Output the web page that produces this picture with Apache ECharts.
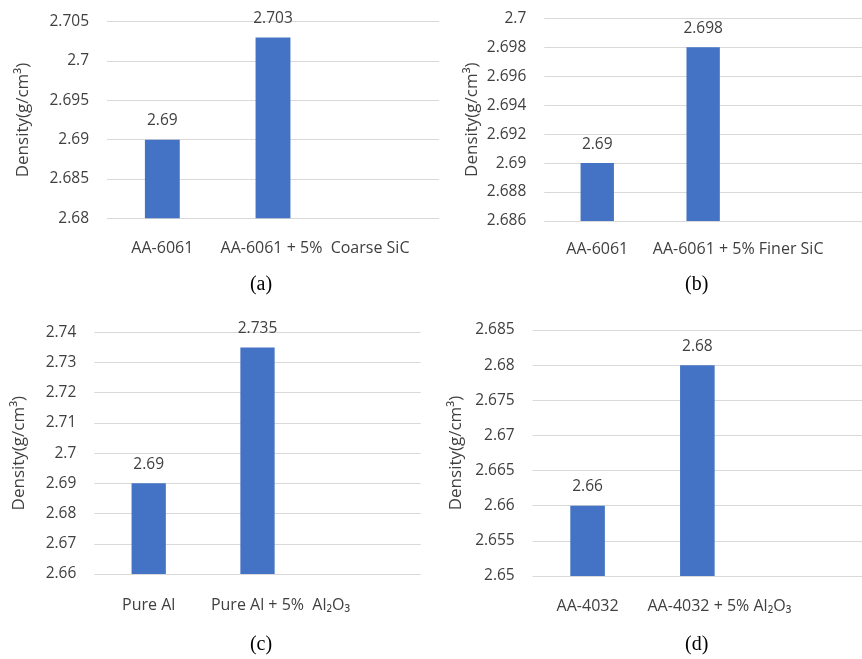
<!DOCTYPE html>
<html>
<head>
<meta charset="utf-8">
<script src="https://cdn.jsdelivr.net/npm/echarts@6/dist/echarts.min.js"></script>
<style>html,body{margin:0;padding:0;background:#fff}#c{width:862px;height:659px}</style>
</head>
<body>
<div id="c"></div>
<script>
// Panel (a)
const catsA = ['AA-6061', 'AA-6061 + 5%  Coarse SiC', ''];
const valsA = [2.69, 2.703, null];
const yA = {min: 2.68, max: 2.705, interval: 0.005};
// Panel (b)
const catsB = ['AA-6061', 'AA-6061 + 5% Finer SiC', ''];
const valsB = [2.69, 2.698, null];
const yB = {min: 2.686, max: 2.7, interval: 0.002};
// Panel (c)
const catsC = ['Pure Al', 'Pure Al + 5%  Al₂O₃', ''];
const valsC = [2.69, 2.735, null];
const yC = {min: 2.66, max: 2.74, interval: 0.01};
// Panel (d)
const catsD = ['AA-4032', 'AA-4032 + 5% Al₂O₃', ''];
const valsD = [2.66, 2.68, null];
const yD = {min: 2.65, max: 2.685, interval: 0.005};

const captions = ['(a)', '(b)', '(c)', '(d)'];
const yTitle = 'Density(g/cm³)';

const FONT = 'Open Sans';
const TXT = '#404040';
const BLUE = '#4472C4';

const grids = [
  {left: 107, top: 21.7, right: 423, bottom: 440.7},
  {left: 544.3, top: 18.3, right: 0, bottom: 438},
  {left: 94.3, top: 332.3, right: 441.3, bottom: 85},
  {left: 532.7, top: 330, right: -5.5, bottom: 83}
];
const labelShift = [84, 70, 46, 44];
const xMargins = [22, 20.5, 23, 22];
const nameGaps = [75, 64, 67, 68];
const capPos = [[261, 285], [696.7, 285], [261, 645], [696.7, 645]];

const allCats = [catsA, catsB, catsC, catsD];
const allVals = [valsA, valsB, valsC, valsD];
const allY = [yA, yB, yC, yD];

const xAxis = allCats.map((cats, i) => ({
  type: 'category', gridIndex: i,
  data: cats.map((c, j) => j === 1 ? {value: c, textStyle: {padding: [0, 0, 0, labelShift[i]]}} : c),
  axisLine: {show: false}, axisTick: {show: false},
  axisLabel: {color: TXT, fontFamily: FONT, fontSize: 16, margin: xMargins[i], interval: 0}
}));
const yAxis = allY.map((y, i) => ({
  type: 'value', gridIndex: i, min: y.min, max: y.max, interval: y.interval,
  name: yTitle, nameLocation: 'middle', nameRotate: 90, nameGap: nameGaps[i],
  nameTextStyle: {color: TXT, fontFamily: FONT, fontSize: 17},
  axisLine: {show: false}, axisTick: {show: false},
  axisLabel: {color: TXT, fontFamily: FONT, fontSize: 15.5, margin: 18},
  splitLine: {lineStyle: {color: '#D9D9D9', width: 1}}
}));
const series = allVals.map((v, i) => ({
  type: 'bar', xAxisIndex: i, yAxisIndex: i, data: v,
  barWidth: '31.5%',
  itemStyle: {color: BLUE},
  label: {show: true, position: 'top', distance: 11, color: TXT, fontFamily: FONT, fontSize: 15.5},
  silent: true, animation: false
}));
const graphic = captions.map((t, i) => ({
  type: 'text', x: capPos[i][0], y: capPos[i][1],
  style: {text: t, fill: '#000', font: '20px "Liberation Serif", serif', textAlign: 'center', textVerticalAlign: 'middle'}
}));

const chart = echarts.init(document.getElementById('c'), null, {renderer: 'canvas'});
chart.setOption({
  animation: false,
  grid: grids, xAxis, yAxis, series, graphic
});
</script>
</body>
</html>
